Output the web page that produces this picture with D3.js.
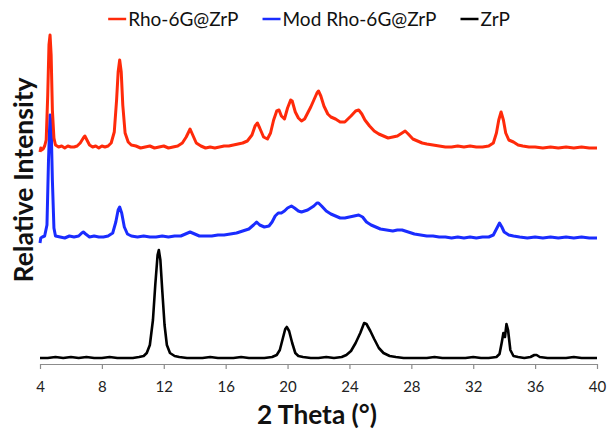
<!DOCTYPE html>
<html>
<head>
<meta charset="utf-8">
<script src="https://cdn.jsdelivr.net/npm/d3@7"></script>
<style>
  body { margin: 0; background: #fff; }
  svg { display: block; }
</style>
</head>
<body>
<svg id="chart" width="608" height="431"></svg>
<script>
// XRD patterns, stacked: [2theta, relative intensity]
const rhoZrP = [
  [4.00,212],[4.05,216],[4.10,214],[4.20,215],[4.30,218],[4.40,224],[4.50,269],[4.58,319],[4.65,329],[4.72,309],[4.80,254],
  [4.90,226],[5.00,219],[5.20,217],[5.40,218],[5.60,216],[5.80,218],[6.00,217],[6.20,217],[6.40,218],[6.60,221],
  [6.80,226],[6.90,228],[7.00,225],[7.20,219],[7.40,217],[7.60,218],[7.80,216],[8.00,218],[8.20,217],[8.40,218],
  [8.60,221],[8.80,232],[8.95,264],[9.05,292],[9.15,304],[9.25,292],[9.35,259],[9.50,231],[9.70,222],[9.90,219],
  [10.2,218],[10.5,216],[10.8,217],[11.1,218],[11.4,216],[11.7,217],[12.0,218],[12.3,216],[12.6,217],[12.9,218],
  [13.2,221],[13.45,227],[13.7,235],[13.9,228],[14.1,221],[14.4,218],[14.7,216],[15.0,217],[15.3,216],[15.6,217],
  [15.9,218],[16.2,218],[16.5,219],[16.8,220],[17.1,221],[17.4,223],[17.7,229],[17.9,238],[18.05,241],[18.2,236],
  [18.45,227],[18.7,225],[18.9,231],[19.1,244],[19.3,253],[19.45,254],[19.6,248],[19.8,245],[20.0,256],[20.2,264],
  [20.3,263],[20.5,252],[20.7,246],[20.9,243],[21.1,245],[21.3,251],[21.5,257],[21.7,264],[21.9,271],[22.0,273],
  [22.15,268],[22.35,258],[22.6,250],[22.8,247],[23.1,245],[23.4,242],[23.7,242],[23.9,245],[24.1,248],[24.4,253],
  [24.6,254],[24.8,250],[25.0,244],[25.3,238],[25.6,233],[25.9,230],[26.2,228],[26.5,226],[26.8,227],[27.1,228],
  [27.4,231],[27.6,233],[27.8,230],[28.1,225],[28.4,223],[28.7,221],[29.0,220],[29.4,219],[29.8,218],[30.2,217],
  [30.6,217],[31.0,218],[31.4,217],[31.8,218],[32.2,217],[32.6,217],[33.0,218],[33.3,221],[33.5,231],[33.65,244],
  [33.8,252],[33.95,244],[34.1,231],[34.3,224],[34.6,222],[34.9,219],[35.2,218],[35.6,217],[36.0,217],[36.5,216],
  [37.0,217],[37.5,216],[38.0,217],[38.5,216],[39.0,217],[39.5,216],[40.0,216]
];

const modRhoZrP = [
  [4.00,121],[4.05,126],[4.15,127],[4.30,128],[4.45,139],[4.55,204],[4.65,249],[4.72,239],[4.80,184],[4.90,136],
  [5.00,128],[5.30,127],[5.60,126],[5.90,128],[6.20,127],[6.50,128],[6.70,131],[6.80,132],[6.95,130],[7.20,127],
  [7.50,128],[7.80,127],[8.10,127],[8.40,128],[8.70,131],[8.90,142],[9.05,154],[9.15,157],[9.28,151],[9.45,137],
  [9.65,130],[9.90,128],[10.3,127],[10.7,128],[11.1,127],[11.5,127],[11.9,128],[12.3,127],[12.7,128],[13.1,128],
  [13.4,130],[13.7,132],[14.0,130],[14.3,128],[14.7,128],[15.1,128],[15.5,129],[15.9,129],[16.3,130],[16.7,131],
  [17.1,133],[17.5,135],[17.8,139],[18.0,142],[18.2,139],[18.5,137],[18.8,138],[19.0,142],[19.2,148],[19.4,151],
  [19.6,151],[19.8,153],[20.0,156],[20.25,158],[20.45,156],[20.7,153],[20.9,152],[21.1,153],[21.3,154],[21.5,156],
  [21.7,158],[21.9,161],[22.0,161],[22.2,158],[22.5,153],[22.8,150],[23.1,148],[23.4,146],[23.7,146],[24.0,147],
  [24.3,148],[24.6,149],[24.85,147],[25.1,142],[25.4,139],[25.7,137],[26.0,135],[26.4,134],[26.8,133],[27.1,134],
  [27.4,134],[27.8,132],[28.2,130],[28.6,129],[29.0,128],[29.4,128],[29.8,127],[30.2,127],[30.6,126],[31.0,127],
  [31.4,126],[31.8,127],[32.2,126],[32.6,127],[33.0,127],[33.3,129],[33.5,135],[33.7,141],[33.85,137],[34.0,132],
  [34.3,129],[34.6,128],[35.0,127],[35.5,126],[36.0,127],[36.5,126],[37.0,127],[37.5,126],[38.0,127],[38.5,126],
  [39.0,127],[39.5,126],[40.0,126]
];

const zrp = [
  [4.0,6],[4.5,6],[5.0,7],[5.5,6],[6.0,7],[6.5,6],[7.0,7],[7.5,6],[8.0,6],[8.5,7],[9.0,6],[9.5,6],[10.0,6],
  [10.4,7],[10.7,8],[10.9,11],[11.1,19],[11.3,44],[11.45,79],[11.6,109],[11.68,114],[11.78,104],[11.9,74],
  [12.05,39],[12.2,19],[12.4,11],[12.7,8],[13.0,7],[13.5,6],[14.0,6],[14.5,6],[15.0,7],[15.5,6],[16.0,6],
  [16.5,6],[17.0,7],[17.5,6],[18.0,6],[18.5,6],[19.0,7],[19.3,9],[19.5,14],[19.7,26],[19.85,35],[19.95,37],
  [20.1,33],[20.3,21],[20.5,11],[20.7,8],[21.0,7],[21.5,6],[22.0,6],[22.5,7],[23.0,6],[23.5,7],[23.8,9],
  [24.1,13],[24.4,21],[24.7,31],[24.95,41],[25.1,40],[25.35,33],[25.6,25],[25.9,16],[26.2,11],[26.6,8],
  [27.0,7],[27.5,6],[28.0,6],[28.5,6],[29.0,6],[29.5,7],[30.0,6],[30.5,6],[31.0,6],[31.5,6],[32.0,7],
  [32.5,6],[33.0,6],[33.5,7],[33.7,10],[33.85,22],[33.95,31],[34.05,27],[34.15,40],[34.25,34],[34.4,14],
  [34.6,8],[34.9,7],[35.3,6],[35.7,7],[35.95,9],[36.1,9],[36.3,7],[36.8,6],[37.5,6],[38.0,6],[38.5,7],
  [39.0,6],[39.5,6],[40.0,6]
];

const seriesNames = ["Rho-6G@ZrP", "Mod Rho-6G@ZrP", "ZrP"];
const seriesColors = ["#ff2a0a", "#1a2cff", "#000000"];
const seriesData = [rhoZrP, modRhoZrP, zrp];
const xTicks = [4, 8, 12, 16, 20, 24, 28, 32, 36, 40];

const font = "Lato, 'Open Sans', sans-serif";
const svg = d3.select("#chart");
const margin = { left: 40, right: 11, top: 34, bottom: 67 };
const W = 608, H = 431;

const x = d3.scaleLinear().domain([4, 40]).range([margin.left, W - margin.right]);
const y = d3.scaleLinear().domain([0, 330]).range([H - margin.bottom, margin.top]);

// fit a text element to a target width by adjusting its font size
function fitText(sel, size, width) {
    sel.attr("font-size", size + "px");
    const len = sel.node().getComputedTextLength();
    sel.attr("font-size", (size * width / len).toFixed(2) + "px");
}

// x axis
const xAxis = d3.axisBottom(x).tickValues(xTicks).tickSize(5).tickSizeOuter(0);
const gx = svg.append("g")
    .attr("transform", `translate(0,${y(0)})`)
    .call(xAxis);
gx.select(".domain").attr("stroke", "#8c8c8c").attr("stroke-width", 1.2);
gx.selectAll(".tick line").attr("stroke", "#8c8c8c").attr("stroke-width", 1.2);
gx.selectAll(".tick text")
    .attr("font-family", font)
    .attr("font-size", "15px")
    .attr("fill", "#222")
    .attr("dy", "1.3em");

// lines
const line = d3.line().x(d => x(d[0])).y(d => y(d[1]));
const widths = [3, 3, 2.6];
seriesData.slice().reverse().forEach((data, i) => {
    const k = seriesData.length - 1 - i;
    svg.append("path")
        .datum(data)
        .attr("d", line)
        .attr("fill", "none")
        .attr("stroke", seriesColors[k])
        .attr("stroke-width", widths[k])
        .attr("stroke-linejoin", "round");
});

// axis titles
const xt = svg.append("text")
    .attr("x", 317)
    .attr("y", 424)
    .attr("text-anchor", "middle")
    .attr("font-family", font)
    .attr("font-weight", 700)
    .attr("fill", "#111")
    .text("2 Theta (°)");
fitText(xt, 22, 120);

const yt = svg.append("text")
    .attr("transform", "translate(33,180) rotate(-90)")
    .attr("text-anchor", "middle")
    .attr("font-family", font)
    .attr("font-weight", 700)
    .attr("fill", "#111")
    .text("Relative Intensity");
fitText(yt, 22, 205);

// legend
const legend = svg.append("g");
let lx = 0;
seriesNames.forEach((name, i) => {
    const g = legend.append("g").attr("transform", `translate(${lx},0)`);
    g.append("line")
        .attr("x1", 0).attr("x2", 18)
        .attr("y1", 0).attr("y2", 0)
        .attr("stroke", seriesColors[i])
        .attr("stroke-width", 2.5);
    const t = g.append("text")
        .attr("x", 20)
        .attr("y", 6.5)
        .attr("font-family", font)
        .attr("font-size", "19px")
        .attr("fill", "#111")
        .text(name);
    lx += 20 + t.node().getComputedTextLength() + 24;
});
const legendW = lx - 24;
legend.attr("transform", `translate(${309 - legendW / 2},19)`);
</script>
</body>
</html>
